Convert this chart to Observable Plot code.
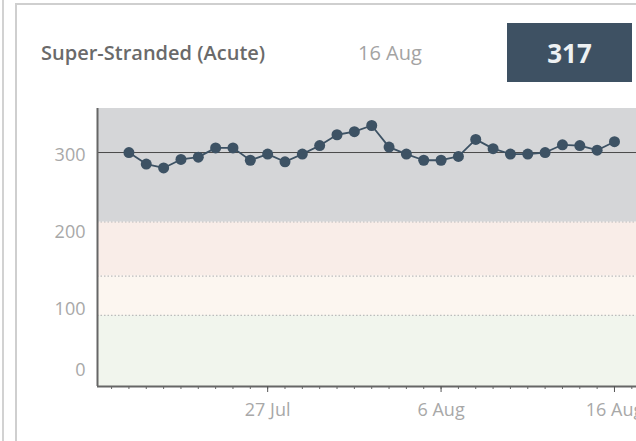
<!DOCTYPE html>
<html>
<head>
<meta charset="utf-8">
<script src="https://cdn.jsdelivr.net/npm/d3@7"></script>
<script src="https://cdn.jsdelivr.net/npm/@observablehq/plot@0.6"></script>
<style>
  html, body { margin: 0; padding: 0; background: #fff; }
  #wrap { position: relative; width: 636px; height: 441px; overflow: hidden; background: #fff; font-family: "Open Sans", sans-serif; }
  #edge { position: absolute; left: 2px; top: 0; width: 2px; height: 441px; background: #d2d2d2; }
  #card { position: absolute; left: 15px; top: 3px; width: 700px; height: 500px; border: 2px solid #cfcfcf; box-sizing: border-box; }
  #title { position: absolute; left: 41px; top: 39px; font-size: 20px; font-weight: 600; color: #6a6a6a; }
  #date { position: absolute; left: 358px; top: 39px; font-size: 20px; color: #a3a3a3; }
  #badge { position: absolute; left: 507px; top: 23px; width: 125px; height: 59px; background: #3e5163; color: #eef1f3; font-size: 26px; font-weight: 700; display: flex; align-items: center; justify-content: center; }
  #chart { position: absolute; left: 0; top: 100px; }
  #chart svg { max-width: none; }
</style>
</head>
<body>
<div id="wrap">
  <div id="edge"></div>
  <div id="card"></div>
  <div id="title"></div>
  <div id="date"></div>
  <div id="badge"></div>
  <div id="chart"></div>
</div>
<script>
// Daily count of super-stranded patients (acute), 19 Jul – 16 Aug
const chartTitle = "Super-Stranded (Acute)";
const dates = [
  "2020-07-19","2020-07-20","2020-07-21","2020-07-22","2020-07-23","2020-07-24","2020-07-25",
  "2020-07-26","2020-07-27","2020-07-28","2020-07-29","2020-07-30","2020-07-31","2020-08-01",
  "2020-08-02","2020-08-03","2020-08-04","2020-08-05","2020-08-06","2020-08-07","2020-08-08",
  "2020-08-09","2020-08-10","2020-08-11","2020-08-12","2020-08-13","2020-08-14","2020-08-15",
  "2020-08-16"
];
const values = [
  303, 288, 283, 294, 297, 309, 309,
  293, 301, 291, 301, 312, 326, 330,
  338, 310, 301, 293, 293, 298, 320,
  308, 301, 301, 303, 313, 312, 306,
  317
];

// Background threshold bands
const bandFrom = [0, 92, 143, 213];
const bandTo = [92, 143, 213, 360];
const bandColors = ["#f1f5ed", "#fcf6f0", "#f9ede8", "#d5d6d8"];

// Axis ticks
const yTicks = [100, 200, 300];
const yZeroTick = [0];
const tickDates = ["2020-07-27", "2020-08-06", "2020-08-16"];
const tickLabels = ["27 Jul", "6 Aug", "16 Aug"];

const parse = s => new Date(s + "T00:00:00Z");
const data = dates.map((d, i) => ({date: parse(d), value: values[i]}));
const bands = bandFrom.map((f, i) => ({y1: f, y2: bandTo[i], fill: bandColors[i]}));
const majorTicks = tickDates.map(parse);

const xDomain = [new Date(Date.UTC(2020, 6, 17, 4, 30)), new Date(Date.UTC(2020, 7, 19))];
const dayTicks = d3.utcDays(d3.utcDay.ceil(xDomain[0]), xDomain[1]);

const last = data[data.length - 1];
document.getElementById("title").textContent = chartTitle;
document.getElementById("date").textContent = d3.utcFormat("%-d %b")(last.date);
document.getElementById("badge").textContent = last.value;

const ink = "#3d5264";
const labelFont = {fontSize: 18, fill: "#a8a8a8"};

const chart = Plot.plot({
  width: 666,
  height: 320,
  marginLeft: 97,
  marginRight: 0,
  marginTop: 8,
  marginBottom: 34,
  style: {fontFamily: "Open Sans, sans-serif", fontSize: "18px", color: "#a8a8a8", background: "transparent", overflow: "visible"},
  x: {type: "utc", domain: xDomain},
  y: {domain: [0, 360]},
  color: {type: "identity"},
  marks: [
    Plot.rect(bands, {y1: "y1", y2: "y2", fill: "fill"}),
    Plot.ruleY(bandFrom.slice(1), {stroke: "#bcbcbc", strokeWidth: 1.2, strokeDasharray: "1.5,2"}),
    Plot.ruleY(data, Plot.groupZ({y: "median"}, {y: "value", stroke: "#4a4a4a", strokeWidth: 1})),
    Plot.line(data, {x: "date", y: "value", stroke: ink, strokeWidth: 1.8}),
    Plot.dot(data, {x: "date", y: "value", r: 5.5, fill: ink, stroke: "none"}),
    Plot.ruleY([0], {stroke: "#666", strokeWidth: 2}),
    Plot.ruleX([xDomain[0]], {stroke: "#666", strokeWidth: 2}),
    Plot.axisX(dayTicks, {tickSize: 3, tickFormat: () => "", stroke: "#666"}),
    Plot.axisX(majorTicks, {
      tickSize: 6, tickPadding: 11, stroke: "#555", ...labelFont,
      tickFormat: d => tickLabels[majorTicks.findIndex(t => +t === +d)]
    }),
    Plot.axisY(yTicks, {tickSize: 0, tickPadding: 12, ...labelFont}),
    Plot.axisY(yZeroTick, {tickSize: 0, tickPadding: 12, dy: -16, ...labelFont})
  ]
});
document.getElementById("chart").appendChild(chart);
</script>
</body>
</html>
